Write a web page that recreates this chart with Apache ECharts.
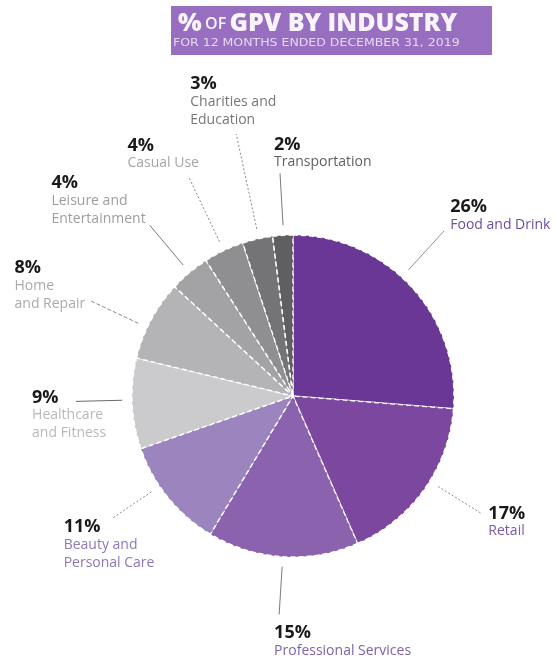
<!DOCTYPE html>
<html>
<head>
<meta charset="utf-8">
<script src="https://cdn.jsdelivr.net/npm/echarts@6/dist/echarts.min.js"></script>
<style>
  html, body { margin: 0; padding: 0; background: #ffffff; }
  #chart { width: 556px; height: 665px; }
</style>
</head>
<body>
<div id="chart"></div>
<script>
// ---- data ----
const categories = ['Food and Drink', 'Retail', 'Professional Services', 'Beauty and Personal Care',
  'Healthcare and Fitness', 'Home and Repair', 'Leisure and Entertainment', 'Casual Use',
  'Charities and Education', 'Transportation'];
const labelTexts = ['Food and Drink', 'Retail', 'Professional Services', 'Beauty and\nPersonal Care',
  'Healthcare\nand Fitness', 'Home\nand Repair', 'Leisure and\nEntertainment', 'Casual Use',
  'Charities and\nEducation', 'Transportation'];
const shares = [26, 17, 15, 11, 9, 8, 4, 4, 3, 2];
const titleMain = ['%', 'OF', 'GPV BY INDUSTRY'];
const titleSub = 'FOR 12 MONTHS ENDED DECEMBER 31, 2019';

// ---- styles / layout ----
const PIE_CENTER = [293, 396];
const PIE_RADIUS = 161;
const sliceColors = ['#6a3796', '#7b479f', '#8b62ad', '#9c84bf', '#cbcbcd',
  '#b4b4b6', '#a3a3a5', '#8f8f91', '#747476', '#5f5f61'];
const nameColors = ['#6b4e99', '#7a5aa6', '#7f62a8', '#8e78b5', '#b9b9b9',
  '#aaaaaa', '#9d9d9d', '#a6a6a6', '#777777', '#5f5f5f'];
const lineLengths = [63, 61, 58, 58, 56, 62, 62, 80, 107, 62];
const lineTurns = [-4.8, -3.5, 0, 5, 1.3, -3, 0, 0, 0.5, 0.3]; // degrees, clockwise
const lineTypes = ['solid', [2, 2], 'solid', [2, 2], 'solid', [4, 2], 'solid', [2, 2], [2, 2], 'solid'];
const lineColors = ['#929292', '#8a8a8a', '#7a7a7a', '#8a8a8a', '#6a6a6a', '#8a8a8a', '#7a7a7a', '#8a8a8a', '#8a8a8a', '#7a7a7a'];
// label block attachment relative to the end of its label line
const labelAnchors = [
  { align: 'left', vAlign: 'bottom', dx: 6, dy: 3 },
  { align: 'left', vAlign: 'top', dx: 7, dy: -9 },
  { align: 'left', vAlign: 'top', dx: -5, dy: 9 },
  { align: 'left', vAlign: 'top', dx: -48, dy: -1 },
  { align: 'left', vAlign: 'top', dx: -44, dy: -13 },
  { align: 'right', vAlign: 'bottom', dx: -6, dy: 12 },
  { align: 'right', vAlign: 'bottom', dx: -4, dy: 3 },
  { align: 'left', vAlign: 'bottom', dx: -62, dy: -6 },
  { align: 'left', vAlign: 'bottom', dx: -46, dy: -5 },
  { align: 'left', vAlign: 'bottom', dx: -6, dy: -2 }
];
const LINE_GAP = 10;

function rotateAround(pt, deg) {
  const t = deg * Math.PI / 180;
  const x = pt[0] - PIE_CENTER[0], y = pt[1] - PIE_CENTER[1];
  return [PIE_CENTER[0] + x * Math.cos(t) - y * Math.sin(t),
          PIE_CENTER[1] + x * Math.sin(t) + y * Math.cos(t)];
}

const chart = echarts.init(document.getElementById('chart'), null, { renderer: 'canvas' });

const seriesData = categories.map((name, i) => ({
  name: name,
  value: shares[i],
  itemStyle: { color: sliceColors[i] },
  label: { rich: { n: { color: nameColors[i] } } },
  labelLine: { length: lineLengths[i], length2: 0, lineStyle: { type: lineTypes[i], color: lineColors[i] } }
}));

const option = {
  animation: false,
  backgroundColor: '#ffffff',
  graphic: [
    { type: 'rect', x: 171, y: 6, shape: { width: 321, height: 49 }, style: { fill: '#986ec1' }, silent: true },
    { type: 'text', x: 178, y: 24, silent: true,
      style: {
        text: '{a|' + titleMain[0] + '} {b|' + titleMain[1] + '} {a|' + titleMain[2] + '}',
        verticalAlign: 'middle', align: 'left',
        rich: {
          a: { fontFamily: 'Open Sans', fontWeight: 800, fontSize: 25, fill: '#f8f4fc' },
          b: { fontFamily: 'Open Sans', fontWeight: 600, fontSize: 16, fill: '#f8f4fc' }
        }
      } },
    { type: 'text', x: 173, y: 43, scaleX: 1.25, silent: true,
      style: { text: titleSub, verticalAlign: 'middle', align: 'left',
        font: '10px "DejaVu Sans"', fill: '#e4d8f0' } }
  ],
  series: [{
    type: 'pie',
    center: PIE_CENTER,
    radius: [0, PIE_RADIUS],
    startAngle: 90,
    clockwise: true,
    avoidLabelOverlap: false,
    emphasis: { disabled: true },
    itemStyle: { borderColor: '#ffffff', borderWidth: 1.4, borderType: [5, 3] },
    label: {
      show: true,
      position: 'outside',
      alignTo: 'none',
      bleedMargin: -300,
      overflow: 'none',
      formatter: function (p) {
        const lines = labelTexts[p.dataIndex].split('\n').map(s => '{n|' + s + '}').join('\n');
        return '{p|' + p.value + '%}\n' + lines;
      },
      rich: {
        p: { fontFamily: 'Open Sans', fontWeight: 'bold', fontSize: 18, color: '#1a1a1a', lineHeight: 18, align: 'left' },
        n: { fontFamily: 'Open Sans', fontSize: 14, color: '#999999', lineHeight: 18, align: 'left' }
      }
    },
    labelLine: { show: true, smooth: false, length2: 0, lineStyle: { width: 1 } },
    labelLayout: function (p) {
      const pts = p.labelLinePoints;
      if (!pts) return {};
      const turn = lineTurns[p.dataIndex];
      const a = rotateAround(pts[0], turn);
      const e = rotateAround(pts[pts.length - 1], turn);
      const vx = e[0] - a[0], vy = e[1] - a[1];
      const len = Math.hypot(vx, vy) || 1;
      const s = [a[0] + vx / len * LINE_GAP, a[1] + vy / len * LINE_GAP];
      const an = labelAnchors[p.dataIndex];
      return {
        x: e[0] + an.dx,
        y: e[1] + an.dy,
        align: an.align,
        verticalAlign: an.vAlign,
        labelLinePoints: [s, e]
      };
    },
    data: seriesData
  }]
};
chart.setOption(option);
</script>
</body>
</html>
